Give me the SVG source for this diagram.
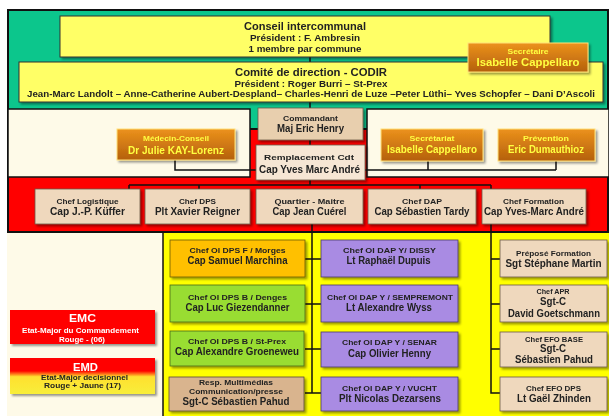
<svg xmlns="http://www.w3.org/2000/svg" width="609" height="416" viewBox="0 0 609 416">
<defs>
<style>
text{font-family:"Liberation Sans","DejaVu Sans",sans-serif;font-weight:bold;fill:#222;text-anchor:middle;}
.s7{font-size:7px}.s8{font-size:8px}.s9{font-size:9px}.s10{font-size:10px}.s11{font-size:11px}.s12{font-size:11.5px}
.w{fill:#fff}.yt{fill:#ffff40}
.yb{fill:#ffff66;stroke:#333;stroke-width:1}
.tan{fill:#efd8bd;stroke:#6b5a48;stroke-width:0.8}
.tan2{fill:#e8cfae;stroke:#6b5a48;stroke-width:0.8}
.tan3{fill:#f6e6d4;stroke:#6b5a48;stroke-width:0.8}
.or{fill:url(#og);stroke:#ffe27a;stroke-width:1}
.pu{fill:#a98be3;stroke:#4a3a6a;stroke-width:0.8}
.gr{fill:#99dd33;stroke:#4a6a1a;stroke-width:0.8}
.ye{fill:#ffc000;stroke:#6a5a10;stroke-width:0.8}
.rs{fill:#d9b48e;stroke:#5a4a38;stroke-width:0.8}
.c{fill:none;stroke:#111;stroke-width:1.5}
</style>
<linearGradient id="og" x1="0" y1="0" x2="0" y2="1"><stop offset="0" stop-color="#ec921c"/><stop offset="1" stop-color="#b4600c"/></linearGradient>
<linearGradient id="emd" x1="0" y1="0" x2="0" y2="1"><stop offset="0" stop-color="#ff0000"/><stop offset="0.36" stop-color="#ff0000"/><stop offset="0.52" stop-color="#ffe030"/><stop offset="1" stop-color="#f8ee3a"/></linearGradient>
<filter id="sh" x="-10%" y="-10%" width="125%" height="135%"><feDropShadow dx="2" dy="2" stdDeviation="1.2" flood-color="#000" flood-opacity="0.4"/></filter>
</defs>
<rect width="609" height="416" fill="#fff"/>
<rect x="7" y="100" width="602" height="316" fill="#fefae8"/>
<g id="backgrounds">
<rect x="8" y="10" width="600" height="120" fill="#0cc68c" stroke="#111" stroke-width="2"/>
<rect x="8" y="129" width="600" height="103" fill="#ff0000" stroke="#111" stroke-width="2"/>
<rect x="8" y="109" width="242" height="68" fill="#fefae8" stroke="#111" stroke-width="1.5"/>
<rect x="367" y="109" width="242" height="68" fill="#fefae8" stroke="#111" stroke-width="1.5"/>
<rect x="8" y="233" width="155" height="183" fill="#fefae8"/>
<rect x="163" y="233" width="446" height="183" fill="#ffff00"/>
<line x1="163" y1="232" x2="163" y2="416" stroke="#111" stroke-width="1.5"/>
</g>
<g id="connectors">
<path class="c" d="M310 57V62M310 102V108M310 140V145M310 180V185M129 185H491M129 185V189M199 185V189M420 185V189M491 185V189"/>
<path class="c" d="M175 160V170H256"/>
<path class="c" d="M365 170H556M428 161V170M556 161V170"/>
<path class="c" d="M312 224V393M305 259H321M305 304H321M305 349H321M305 393H321"/>
<path class="c" d="M491 224V393H500M491 259H500M491 304H500M491 349H500"/>
</g>
<g id="conseil" filter="url(#sh)"><rect class="yb" x="60" y="16" width="490" height="41"/>
<text class="s12" x="305" y="30" textLength="122" lengthAdjust="spacingAndGlyphs">Conseil intercommunal</text>
<text class="s9" x="305" y="41" textLength="110" lengthAdjust="spacingAndGlyphs">Président : F. Ambresin</text>
<text class="s9" x="305" y="52" textLength="113" lengthAdjust="spacingAndGlyphs">1 membre par commune</text></g>
<g id="codir" filter="url(#sh)"><rect class="yb" x="19" y="62" width="584" height="40"/>
<text class="s12" x="311" y="76" textLength="152" lengthAdjust="spacingAndGlyphs">Comité de direction - CODIR</text>
<text class="s9" x="311" y="87" textLength="153" lengthAdjust="spacingAndGlyphs">Président : Roger Burri – St-Prex</text>
<text class="s9" x="311" y="97" textLength="568" lengthAdjust="spacingAndGlyphs">Jean-Marc Landolt – Anne-Catherine Aubert-Despland– Charles-Henri de Luze –Peter Lüthi– Yves Schopfer – Dani D’Ascoli</text></g>
<g id="secretaire" filter="url(#sh)"><rect class="or" x="468" y="43" width="120" height="29"/>
<text class="s7 yt" x="528" y="54" textLength="41" lengthAdjust="spacingAndGlyphs">Secrétaire</text>
<text class="s11 yt" x="528" y="66" textLength="103" lengthAdjust="spacingAndGlyphs">Isabelle Cappellaro</text></g>
<g id="commandant" filter="url(#sh)"><rect class="tan2" x="258" y="108" width="105" height="32"/>
<text class="s8" x="310.5" y="121" textLength="55" lengthAdjust="spacingAndGlyphs">Commandant</text>
<text class="s10" x="310.5" y="132" textLength="67" lengthAdjust="spacingAndGlyphs">Maj Eric Henry</text></g>
<g id="remplacement" filter="url(#sh)"><rect class="tan3" x="256" y="145" width="109" height="35"/>
<text class="s8" x="309" y="160" textLength="90" lengthAdjust="spacingAndGlyphs">Remplacement Cdt</text>
<text class="s10" x="309.5" y="173" textLength="101" lengthAdjust="spacingAndGlyphs">Cap Yves Marc André</text></g>
<g id="medecin" filter="url(#sh)"><rect class="or" x="117" y="129" width="118" height="31"/>
<text class="s7 yt" x="176" y="141" textLength="66" lengthAdjust="spacingAndGlyphs">Médecin-Conseil</text>
<text class="s10 yt" x="176" y="154" textLength="96" lengthAdjust="spacingAndGlyphs">Dr Julie  KAY-Lorenz</text></g>
<g id="secretariat" filter="url(#sh)"><rect class="or" x="381" y="129" width="102" height="32"/>
<text class="s7 yt" x="432" y="141" textLength="45" lengthAdjust="spacingAndGlyphs">Secrétariat</text>
<text class="s10 yt" x="432" y="153" textLength="90" lengthAdjust="spacingAndGlyphs">Isabelle Cappellaro</text></g>
<g id="prevention" filter="url(#sh)"><rect class="or" x="498" y="129" width="97" height="32"/>
<text class="s7 yt" x="546" y="141" textLength="46" lengthAdjust="spacingAndGlyphs">Prévention</text>
<text class="s10 yt" x="546" y="153" textLength="76" lengthAdjust="spacingAndGlyphs">Eric Dumauthioz</text></g>
<g id="logistique" filter="url(#sh)"><rect class="tan" x="35" y="189" width="105" height="35"/>
<text class="s8" x="87.5" y="204" textLength="62" lengthAdjust="spacingAndGlyphs">Chef Logistique</text>
<text class="s10" x="87.5" y="215" textLength="75" lengthAdjust="spacingAndGlyphs">Cap J.-P. Küffer</text></g>
<g id="chefdps" filter="url(#sh)"><rect class="tan" x="145" y="189" width="105" height="35"/>
<text class="s8" x="197.5" y="204" textLength="37" lengthAdjust="spacingAndGlyphs">Chef DPS</text>
<text class="s10" x="197.5" y="215" textLength="85" lengthAdjust="spacingAndGlyphs">Plt Xavier Reigner</text></g>
<g id="quartiermaitre" filter="url(#sh)"><rect class="tan" x="256" y="189" width="107" height="35"/>
<text class="s8" x="309.5" y="204" textLength="70" lengthAdjust="spacingAndGlyphs">Quartier - Maitre</text>
<text class="s10" x="309.5" y="215" textLength="74" lengthAdjust="spacingAndGlyphs">Cap Jean Cuérel</text></g>
<g id="chefdap" filter="url(#sh)"><rect class="tan" x="368" y="189" width="108" height="35"/>
<text class="s8" x="422" y="204" textLength="40" lengthAdjust="spacingAndGlyphs">Chef  DAP</text>
<text class="s10" x="422" y="215" textLength="95" lengthAdjust="spacingAndGlyphs">Cap Sébastien Tardy</text></g>
<g id="chefformation" filter="url(#sh)"><rect class="tan" x="482" y="189" width="104" height="35"/>
<text class="s8" x="533.5" y="204" textLength="61" lengthAdjust="spacingAndGlyphs">Chef Formation</text>
<text class="s10" x="534" y="215" textLength="100" lengthAdjust="spacingAndGlyphs">Cap Yves-Marc André</text></g>
<g id="morges" filter="url(#sh)"><rect class="ye" x="170" y="240" width="135" height="37"/>
<text class="s8" x="237.5" y="253" textLength="96" lengthAdjust="spacingAndGlyphs">Chef OI DPS F / Morges</text>
<text class="s10" x="237.5" y="264" textLength="100" lengthAdjust="spacingAndGlyphs">Cap Samuel Marchina</text></g>
<g id="denges" filter="url(#sh)"><rect class="gr" x="170" y="285" width="135" height="37"/>
<text class="s8" x="237.5" y="300" textLength="99" lengthAdjust="spacingAndGlyphs">Chef  OI DPS B / Denges</text>
<text class="s10" x="237.5" y="311" textLength="104" lengthAdjust="spacingAndGlyphs">Cap Luc Giezendanner</text></g>
<g id="stprex" filter="url(#sh)"><rect class="gr" x="170" y="331" width="134" height="35"/>
<text class="s8" x="237" y="344" textLength="98" lengthAdjust="spacingAndGlyphs">Chef  OI DPS B / St-Prex</text>
<text class="s10" x="237" y="355" textLength="124" lengthAdjust="spacingAndGlyphs">Cap Alexandre Groeneweu</text></g>
<g id="multimedias" filter="url(#sh)"><rect class="rs" x="169" y="377" width="135" height="34"/>
<text class="s8" x="236" y="385" textLength="74" lengthAdjust="spacingAndGlyphs">Resp. Multimédias</text>
<text class="s8" x="236" y="394" textLength="94" lengthAdjust="spacingAndGlyphs">Communication/presse</text>
<text class="s10" x="236" y="405" textLength="107" lengthAdjust="spacingAndGlyphs">Sgt-C Sébastien Pahud</text></g>
<g id="dissy" filter="url(#sh)"><rect class="pu" x="321" y="240" width="137" height="37"/>
<text class="s8" x="389.5" y="253" textLength="93" lengthAdjust="spacingAndGlyphs">Chef OI DAP  Y/ DISSY</text>
<text class="s10" x="388.5" y="264" textLength="84" lengthAdjust="spacingAndGlyphs">Lt Raphaël Dupuis</text></g>
<g id="sempremont" filter="url(#sh)"><rect class="pu" x="321" y="285" width="137" height="37"/>
<text class="s8" x="390" y="300" textLength="126" lengthAdjust="spacingAndGlyphs">Chef  OI DAP Y / SEMPREMONT</text>
<text class="s10" x="389" y="311" textLength="86" lengthAdjust="spacingAndGlyphs">Lt Alexandre Wyss</text></g>
<g id="senar" filter="url(#sh)"><rect class="pu" x="321" y="332" width="137" height="35"/>
<text class="s8" x="389.5" y="345" textLength="95" lengthAdjust="spacingAndGlyphs">Chef  OI DAP Y / SENAR</text>
<text class="s10" x="389.5" y="357" textLength="83" lengthAdjust="spacingAndGlyphs">Cap Olivier Henny</text></g>
<g id="vucht" filter="url(#sh)"><rect class="pu" x="321" y="377" width="137" height="34"/>
<text class="s8" x="389.5" y="391" textLength="95" lengthAdjust="spacingAndGlyphs">Chef  OI DAP Y / VUCHT</text>
<text class="s10" x="390" y="402" textLength="102" lengthAdjust="spacingAndGlyphs">Plt Nicolas Dezarsens</text></g>
<g id="prepose" filter="url(#sh)"><rect class="tan" x="500" y="240" width="107" height="37"/>
<text class="s8" x="553.5" y="256" textLength="75" lengthAdjust="spacingAndGlyphs">Préposé Formation</text>
<text class="s10" x="553.5" y="267" textLength="96" lengthAdjust="spacingAndGlyphs">Sgt Stéphane Martin</text></g>
<g id="apr" filter="url(#sh)"><rect class="tan" x="500" y="285" width="107" height="37"/>
<text class="s8" x="553" y="294" textLength="33" lengthAdjust="spacingAndGlyphs">Chef APR</text>
<text class="s10" x="553" y="305" textLength="26" lengthAdjust="spacingAndGlyphs">Sgt-C</text>
<text class="s10" x="554" y="317" textLength="92" lengthAdjust="spacingAndGlyphs">David Goetschmann</text></g>
<g id="efobase" filter="url(#sh)"><rect class="tan" x="500" y="332" width="107" height="35"/>
<text class="s8" x="554" y="342" textLength="58" lengthAdjust="spacingAndGlyphs">Chef EFO BASE</text>
<text class="s10" x="553" y="352" textLength="26" lengthAdjust="spacingAndGlyphs">Sgt-C</text>
<text class="s10" x="554" y="363" textLength="78" lengthAdjust="spacingAndGlyphs">Sébastien Pahud</text></g>
<g id="efodps" filter="url(#sh)"><rect class="tan" x="500" y="377" width="107" height="34"/>
<text class="s8" x="553.5" y="391" textLength="55" lengthAdjust="spacingAndGlyphs">Chef EFO DPS</text>
<text class="s10" x="554" y="402" textLength="74" lengthAdjust="spacingAndGlyphs">Lt Gaël Zhinden</text></g>
<g id="emc" filter="url(#sh)"><rect x="10" y="310" width="145" height="34" fill="#ff0000"/>
<text class="s11 w" x="82.5" y="322" textLength="27" lengthAdjust="spacingAndGlyphs">EMC</text>
<text class="s7 w" x="80.5" y="333" textLength="117" lengthAdjust="spacingAndGlyphs">Etat-Major du Commandement</text>
<text class="s7 w" x="82" y="342" textLength="46" lengthAdjust="spacingAndGlyphs">Rouge - (06)</text></g>
<g id="emd" filter="url(#sh)"><rect x="10" y="358" width="145" height="36" fill="url(#emd)"/>
<text class="s11 w" x="85.5" y="371" textLength="25" lengthAdjust="spacingAndGlyphs">EMD</text>
<text class="s7" x="84.5" y="380" textLength="87" lengthAdjust="spacingAndGlyphs">Etat-Major decisionnel</text>
<text class="s7" x="82.5" y="388" textLength="77" lengthAdjust="spacingAndGlyphs">Rouge + Jaune  (17)</text></g>
</svg>
